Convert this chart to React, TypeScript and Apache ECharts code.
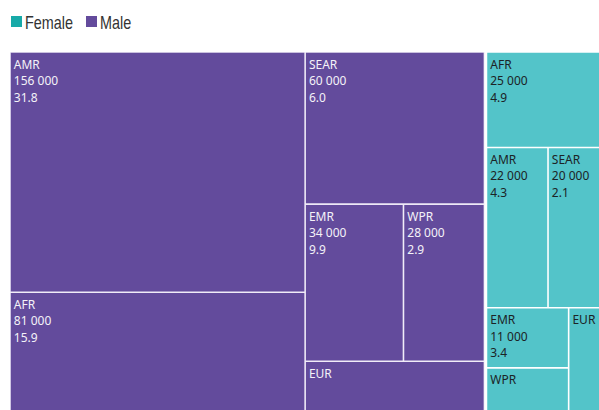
import React, { useEffect, useRef } from "react";
import * as echarts from "echarts";

const groups = ["Male", "Female"];
const regions = ["AMR", "AFR", "SEAR", "EMR", "WPR", "EUR"];
const maleValues = [156000, 81000, 60000, 34000, 28000, 22000];
const maleRates: (number | null)[] = [31.8, 15.9, 6.0, 9.9, 2.9, null];
const femaleValues = [22000, 25000, 20000, 11000, 9000, 8600];
const femaleRates: (number | null)[] = [4.3, 4.9, 2.1, 3.4, null, null];

const MALE_COLOR = "#634b9c";
const FEMALE_COLOR = "#53c4c9";
const FEMALE_LEGEND = "#17aaa8";
const LEGEND_FONT = '18px "Liberation Sans", Arial, sans-serif';

const fmt = (v: number) => String(v).replace(/\B(?=(\d{3})+(?!\d))/g, " ");

function buildChildren(values: number[], rates: (number | null)[], color: string, textColor: string, lineColor: string) {
  return regions.map((r, i) => ({
    name: r,
    value: values[i],
    rate: rates[i],
    itemStyle: { color, borderColor: lineColor, borderWidth: 0.8 },
    label: { color: textColor },
  }));
}

export default function App() {
  const ref = useRef<HTMLDivElement>(null);
  useEffect(() => {
    if (!ref.current) return;
    const chart = echarts.init(ref.current, undefined, { renderer: "svg" });
    const data = [
      {
        name: groups[0],
        value: maleValues.reduce((a, b) => a + b, 0),
        children: buildChildren(maleValues, maleRates, MALE_COLOR, "#f4f2f8", "rgba(235,230,245,0.9)"),
      },
      {
        name: groups[1],
        value: femaleValues.reduce((a, b) => a + b, 0),
        children: buildChildren(femaleValues, femaleRates, FEMALE_COLOR, "#1c2326", "rgba(255,255,255,0.95)"),
      },
    ];
    chart.setOption({
      animation: false,
      graphic: [
        { type: "rect", x: 11, y: 16, shape: { width: 11, height: 11 }, style: { fill: FEMALE_LEGEND } },
        {
          type: "text",
          x: 25,
          y: 22,
          scaleX: 0.8,
          style: { text: "Female", fill: "#333", font: LEGEND_FONT, textVerticalAlign: "middle", verticalAlign: "middle" },
        },
        { type: "rect", x: 86, y: 16, shape: { width: 11, height: 11 }, style: { fill: MALE_COLOR } },
        {
          type: "text",
          x: 100,
          y: 22,
          scaleX: 0.8,
          style: { text: "Male", fill: "#333", font: LEGEND_FONT, textVerticalAlign: "middle", verticalAlign: "middle" },
        },
      ],
      series: [
        {
          type: "treemap",
          left: 10,
          top: 52,
          width: 594,
          height: 365,
          roam: false,
          nodeClick: false,
          breadcrumb: { show: false },
          squareRatio: 0.5 * (1 + Math.sqrt(5)),
          levels: [
            { itemStyle: { gapWidth: 2, borderWidth: 0, color: "#ffffff", borderColor: "#ffffff" } },
            { itemStyle: { gapWidth: 0, borderWidth: 0 }, upperLabel: { show: false } },
            {},
          ],
          label: {
            show: true,
            position: "insideTopLeft",
            offset: [0, 0],
            padding: [3, 3, 2, 3],
            fontFamily: '"Noto Sans", sans-serif',
            fontSize: 12,
            lineHeight: 16.5,
            formatter: (p: any) => {
              const d = p.data;
              if (d.rate == null) return d.name;
              return `${d.name}\n${fmt(d.value)}\n${d.rate.toFixed(1)}`;
            },
          },
          data,
        },
      ],
    });
    return () => chart.dispose();
  }, []);
  return <div ref={ref} style={{ position: "absolute", left: 0, top: 0, width: 599, height: 410 }} />;
}
